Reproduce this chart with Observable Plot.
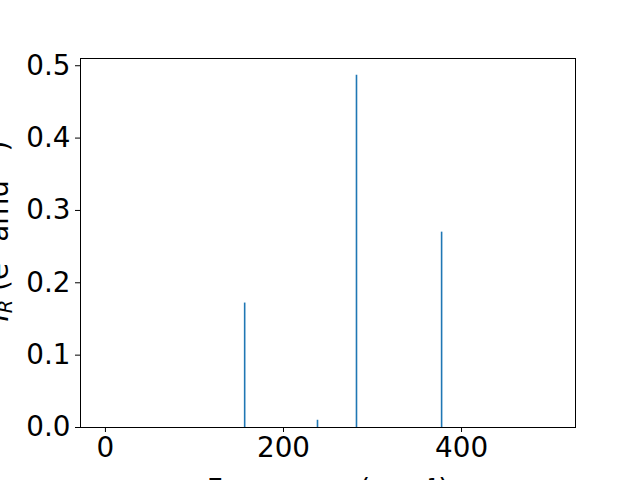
<!DOCTYPE html>
<html><head><meta charset="utf-8">
<script src="https://cdn.jsdelivr.net/npm/d3@7"></script>
<script src="https://cdn.jsdelivr.net/npm/@observablehq/plot@0.6"></script>
<style>body{margin:0;background:#fff}</style>
</head><body><div id="chart"></div>
<script>
const frequencies = [156.4, 238.2, 282.0, 377.6];
const intensities = [0.172, 0.010, 0.487, 0.270];
const xTicks = [0, 200, 400];
const yTicks = [0.0, 0.1, 0.2, 0.3, 0.4, 0.5];
const xLabel = "Frequency (cm⁻¹)";
const data = frequencies.map((f, i) => ({f, I: intensities[i]}));

const FS = 27.8;
const chart = Plot.plot({
  width: 640, height: 480,
  marginLeft: 80, marginRight: 65, marginTop: 58, marginBottom: 53,
  style: {fontFamily: "DejaVu Sans", fontSize: FS + "px", background: "white", color: "black"},
  x: {domain: [-28, 528]},
  y: {domain: [0, 0.51]},
  marks: [
    Plot.ruleX(data, {x: "f", y1: 0, y2: "I", stroke: "#1f77b4", strokeWidth: 1.6}),
    Plot.frame({stroke: "black", strokeWidth: 1}),
    Plot.axisX(xTicks, {tickSize: 5, tickPadding: 5, fontSize: FS, label: null, stroke: "black"}),
    Plot.axisY(yTicks, {tickSize: 5, tickPadding: 5, fontSize: FS, tickFormat: ".1f", label: null, stroke: "black"}),
    Plot.text([xLabel], {frameAnchor: "bottom", dy: 52, lineAnchor: "top", textAnchor: "middle", fontSize: FS, fill: "black"}),
    Plot.text(["YLABEL"], {frameAnchor: "left", dx: -81, dy: -12, rotate: -90, textAnchor: "middle", fontSize: FS, fill: "black"})
  ]
});
document.getElementById("chart").appendChild(chart);
d3.select(chart).selectAll("text").filter(function(){ return this.textContent === "YLABEL"; })
  .each(function(){
    const t = d3.select(this);
    t.text(null);
    const sub = (FS * 0.7) + "px";
    t.append("tspan").attr("font-style", "italic").text("I");
    t.append("tspan").attr("baseline-shift", "-20%").attr("font-size", sub).attr("font-style", "italic").text("R");
    t.append("tspan").text(" (e");
    t.append("tspan").attr("baseline-shift", "super").attr("font-size", sub).text("2");
    t.append("tspan").text(" amu");
    t.append("tspan").attr("baseline-shift", "super").attr("font-size", sub).text("−1");
    t.append("tspan").text(")");
  });
</script>
</body></html>
